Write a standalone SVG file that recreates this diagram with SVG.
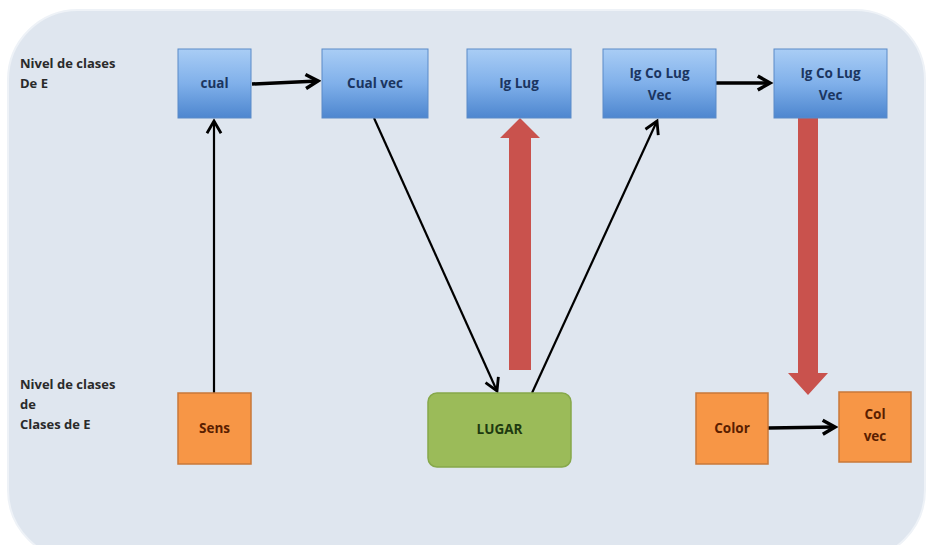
<svg xmlns="http://www.w3.org/2000/svg" width="928" height="545" viewBox="0 0 928 545">
<defs>
<linearGradient id="gb" x1="0" y1="0" x2="0" y2="1">
<stop offset="0" stop-color="#a9cdf5"/>
<stop offset="0.5" stop-color="#80b0ea"/>
<stop offset="1" stop-color="#4d86cf"/>
</linearGradient>
<marker id="ah" viewBox="0 0 10 10" refX="8" refY="5" markerWidth="5" markerHeight="5" orient="auto" markerUnits="strokeWidth">
<path d="M1,1 L8,5 L1,9" fill="none" stroke="#000" stroke-width="2"/>
</marker>
<marker id="ahs" viewBox="0 0 10 10" refX="8" refY="5" markerWidth="8" markerHeight="8" orient="auto" markerUnits="strokeWidth">
<path d="M1,1 L8,5 L1,9" fill="none" stroke="#000" stroke-width="1.6"/>
</marker>
<style>
text{font-family:"Open Sans","DejaVu Sans",sans-serif;font-weight:bold;font-size:13.5px;text-anchor:middle}
.lbl{text-anchor:start;fill:#2a2a2a;font-size:13px}
.blue rect{fill:url(#gb);stroke:#5a8ac8;stroke-width:1}
.blue text{fill:#1b3560}
.orange rect{fill:#f79646;stroke:#c9783a;stroke-width:1.5}
.orange text{fill:#5a1e00}
.green rect{fill:#9bbb59;stroke:#86a84a;stroke-width:1.5}
.green text{fill:#1e3a10}
.thick{stroke:#000;stroke-width:3.5;fill:none}
.thin{stroke:#000;stroke-width:2.2;fill:none}
.red{fill:#c9524d}
</style>
</defs>
<rect x="0" y="0" width="928" height="545" fill="#ffffff"/>
<rect x="8" y="10" width="917" height="550" rx="70" ry="70" fill="#dfe6ef" stroke="#eef2f7" stroke-width="2"/>

<g id="labels">
<text class="lbl" x="20" y="68">Nivel de clases</text>
<text class="lbl" x="20" y="88">De E</text>
<text class="lbl" x="20" y="389">Nivel de clases</text>
<text class="lbl" x="20" y="409">de</text>
<text class="lbl" x="20" y="429">Clases de E</text>
</g>

<g id="connectors">
<line class="thick" x1="252" y1="84" x2="318" y2="81" marker-end="url(#ah)"/>
<line class="thick" x1="716" y1="83" x2="770" y2="83" marker-end="url(#ah)"/>
<line class="thick" x1="768" y1="428" x2="835" y2="427" marker-end="url(#ah)"/>
<line class="thin" x1="214" y1="393" x2="214" y2="121" marker-end="url(#ahs)"/>
<line class="thin" x1="374" y1="118" x2="497" y2="391" marker-end="url(#ahs)"/>
<line class="thin" x1="532" y1="393" x2="657" y2="121" marker-end="url(#ahs)"/>
<polygon class="red" points="509,370 531,370 531,138 540,138 520,118 500,138 509,138"/>
<polygon class="red" points="798,118 818,118 818,373 828,373 808,395 788,373 798,373"/>
</g>

<g id="n-cual" class="blue"><rect x="178" y="49" width="73" height="69"/><text x="214.5" y="88">cual</text></g>
<g id="n-cualvec" class="blue"><rect x="322" y="49" width="106" height="69"/><text x="375" y="88">Cual vec</text></g>
<g id="n-iglug" class="blue"><rect x="467" y="49" width="104" height="69"/><text x="519" y="88">Ig Lug</text></g>
<g id="n-igcolugvec1" class="blue"><rect x="603" y="49" width="113" height="69"/><text x="659.5" y="78">Ig Co Lug</text><text x="659.5" y="100">Vec</text></g>
<g id="n-igcolugvec2" class="blue"><rect x="774" y="49" width="113" height="69"/><text x="830.5" y="78">Ig Co Lug</text><text x="830.5" y="100">Vec</text></g>
<g id="n-sens" class="orange"><rect x="178" y="393" width="73" height="71"/><text x="214.5" y="433">Sens</text></g>
<g id="n-lugar" class="green"><rect x="428" y="393" width="143" height="74" rx="9" ry="9"/><text x="499.5" y="434">LUGAR</text></g>
<g id="n-color" class="orange"><rect x="696" y="393" width="72" height="71"/><text x="732" y="433">Color</text></g>
<g id="n-colvec" class="orange"><rect x="839" y="392" width="72" height="70"/><text x="875" y="419">Col</text><text x="875" y="441">vec</text></g>
</svg>
